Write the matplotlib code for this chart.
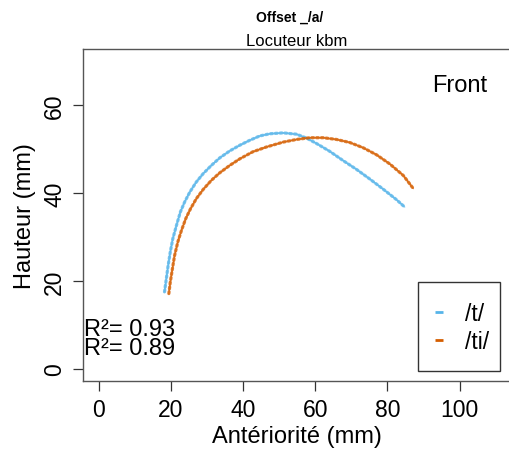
import matplotlib
matplotlib.use("Agg")
import matplotlib.pyplot as plt
from matplotlib.lines import Line2D
from matplotlib.patches import Rectangle

plt.rcParams['font.family'] = ['Liberation Sans', 'DejaVu Sans']

# Data
t_x = [18.2, 18.7, 19.2, 19.8, 20.5, 21.5, 22.6, 23.8, 25.2, 27.0, 28.9, 31.2, 33.5,
       36.3, 39.1, 41.8, 44.6, 47.4, 51.1, 54.8, 57.6, 60.3, 64.0, 67.7, 71.4, 75.1,
       78.8, 82.5, 84.8]
t_y = [17.5, 20.5, 23.5, 26.6, 29.6, 32.6, 35.7, 38.0, 40.2, 42.5, 44.4, 46.3, 48.0,
       49.6, 50.9, 52.0, 53.0, 53.5, 53.7, 53.4, 52.5, 51.3, 49.5, 47.4, 45.4, 43.2,
       40.9, 38.5, 36.8]
ti_x = [19.4, 19.8, 20.4, 21.0, 21.9, 22.9, 24.1, 25.4, 27.0, 28.9, 31.2, 33.5, 36.3,
        39.1, 42.7, 46.5, 51.1, 54.8, 58.5, 62.2, 65.9, 69.6, 73.3, 77.0, 80.7, 84.4,
        87.2]
ti_y = [17.1, 19.7, 22.8, 25.8, 28.9, 31.5, 34.2, 36.4, 38.7, 40.8, 42.9, 44.6, 46.3,
        47.8, 49.4, 50.5, 51.6, 52.2, 52.6, 52.6, 52.2, 51.5, 50.3, 48.7, 46.6, 44.0,
        41.0]
labels = ["/t/", "/ti/"]
r2 = ["R²= 0.93", "R²= 0.89"]
x_ticks = [0, 20, 40, 60, 80, 100]
y_ticks = [0, 20, 40, 60]

c_t = "#56B4E9"
c_ti = "#D55E00"

W, H = 509, 456
fig = plt.figure(figsize=(W / 100, H / 100), dpi=100)
ax = fig.add_axes([83 / W, 1 - 382 / H, (511.5 - 83) / W, (382 - 50) / H])

for xs, ys, c in [(t_x, t_y, c_t), (ti_x, ti_y, c_ti)]:
    ax.plot(xs, ys, color=c, lw=1.0, alpha=0.55, solid_capstyle='round')
    ax.plot(xs, ys, color=c, lw=2.3, linestyle=(0, (0.6, 0.9)),
            dash_capstyle='round', alpha=0.8)

ax.set_xlim(-4.4, 114.4)
ax.set_ylim(-2.8, 72.8)
ax.set_xticks(x_ticks)
ax.set_yticks(y_ticks)
ax.tick_params(axis='both', direction='out', length=7, width=0.9, color='#333333',
               labelsize=16.5, pad=5)
for lab in ax.get_yticklabels():
    lab.set_rotation(90)
    lab.set_va('center')
for s in ax.spines.values():
    s.set_color('#555555')
    s.set_linewidth(1.0)

ax.set_xlabel("Antériorité (mm)", fontsize=17, labelpad=3)
ax.set_ylabel("Hauteur (mm)", fontsize=17, labelpad=5)

fig.text(290 / W, 1 - 18 / H, "Offset _/a/", ha='center', va='center',
         fontsize=10, fontweight='bold')
fig.text(297 / W, 1 - 42 / H, "Locuteur kbm", ha='center', va='center', fontsize=12)

ax.text(100, 64.7, "Front", ha='center', va='center', fontsize=17)
ax.text(-4.0, 6.8, "\n".join(r2), ha='left', va='center', fontsize=17,
        linespacing=0.82)

# legend
fig.add_artist(Rectangle((418 / W, 1 - 372 / H), 82 / W, 89 / H, transform=fig.transFigure,
                         facecolor='white', edgecolor='#333333', lw=1.0, zorder=5))
handles = [Line2D([], [], color=c_t, marker='_', linestyle='None', markersize=6, mew=2),
           Line2D([], [], color=c_ti, marker='_', linestyle='None', markersize=6, mew=2)]
leg = fig.legend(handles, labels, loc='center left',
                 bbox_to_anchor=(428 / W, 1 - 328.5 / H), bbox_transform=fig.transFigure,
                 fontsize=16.5, frameon=False, handlelength=1.0, handletextpad=0.6,
                 borderpad=0, labelspacing=0.25, borderaxespad=0)
leg.set_zorder(6)

fig.savefig("out.png", dpi=100)
